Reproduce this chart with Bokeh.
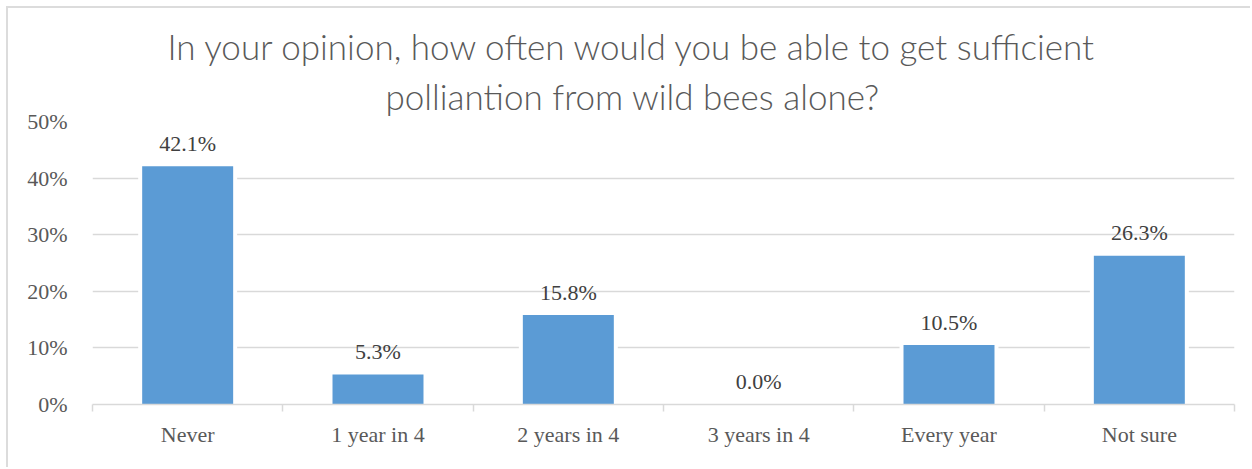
from bokeh.plotting import figure
from bokeh.models import (Range1d, LinearAxis, FixedTicker,
                          PrintfTickFormatter, Title, ColumnDataSource)
from bokeh.core.properties import value
from bokeh.embed import file_html
from bokeh.resources import INLINE

categories = ["Never", "1 year in 4", "2 years in 4", "3 years in 4", "Every year", "Not sure"]
values = [42.1, 5.3, 15.8, 0.0, 10.5, 26.3]
labels = [f"{v:.1f}%" for v in values]
y_ticks = [0, 10, 20, 30, 40, 50]
title_lines = ["In your opinion, how often would you be able to get sufficient",
               "polliantion from wild bees alone?"]

BLUE = "#5B9BD5"
GRID = "#D9D9D9"
AXIS_TXT = "#595959"
LBL_TXT = "#404040"
SERIF = "Liberation Serif"
TITLE_FONT = "'Lato Light', Lato, sans-serif"

n = len(categories)
xpos = [i + 0.5 for i in range(n)]
src = ColumnDataSource(dict(x=xpos, cat=categories, val=values, lbl=labels))

p = figure(width=1244, height=461, x_range=Range1d(0, n),
           y_range=Range1d(0, 50), output_backend="svg", toolbar_location=None,
           x_axis_location=None, y_axis_location="left",
           min_border_left=84, min_border_right=18, min_border_top=113, min_border_bottom=65)
p.styles = {"margin-left": "6px", "margin-top": "6px",
            "border-left": "2px solid #DCDCDC", "border-top": "2px solid #DCDCDC"}
p.outline_line_color = None
p.background_fill_color = "white"
p.border_fill_color = "white"

# titles (line 2 added first: closest to plot); left-aligned with offsets so
# that they are centred over the whole chart rather than the plot frame
for txt, so, off in zip(reversed(title_lines), [9, 3], [293, 75]):
    p.add_layout(Title(text=txt, align="left", text_font=TITLE_FONT,
                       text_font_style="normal", text_font_size="35px",
                       text_color=AXIS_TXT, standoff=so, offset=off), "above")

# y axis
p.yaxis.ticker = FixedTicker(ticks=y_ticks)
p.yaxis.formatter = PrintfTickFormatter(format="%d%%")
p.yaxis.axis_line_color = None
p.yaxis.major_tick_line_color = None
p.yaxis.minor_tick_line_color = None
p.yaxis.major_label_standoff = 19
p.yaxis.major_label_text_font = SERIF
p.yaxis.major_label_text_font_size = "22px"
p.yaxis.major_label_text_color = AXIS_TXT

p.ygrid.grid_line_color = GRID
p.ygrid.grid_line_width = 1.5
p.xgrid.grid_line_color = None

# boundary tick axis (closest to plot)
bticks = list(range(n + 1))
bax = LinearAxis(ticker=FixedTicker(ticks=bticks, minor_ticks=[]),
                 axis_line_color=GRID, axis_line_width=1.5,
                 major_tick_line_color=GRID, major_tick_line_width=1.5,
                 major_tick_out=7, major_tick_in=0, minor_tick_line_color=None,
                 major_label_overrides={t: "" for t in bticks},
                 major_label_text_font_size="1px", major_label_standoff=0)
p.add_layout(bax, "below")

# category label axis
cax = LinearAxis(ticker=FixedTicker(ticks=xpos, minor_ticks=[]),
                 axis_line_color=None, major_tick_line_color=None, minor_tick_line_color=None,
                 major_label_overrides={x: c for x, c in zip(xpos, categories)},
                 major_label_standoff=4, major_label_text_font=SERIF,
                 major_label_text_font_size="22px", major_label_text_color=AXIS_TXT)
p.add_layout(cax, "below")

# white halo + bars
p.vbar(x="x", top="val", width=0.478, source=src, fill_color="white",
       line_color="white", line_width=8)
p.vbar(x="x", top="val", width=0.478, source=src, fill_color=BLUE, line_color=None)

p.text(x="x", y="val", text="lbl", source=src, text_align="center",
       text_baseline="middle", y_offset=-23, text_font=value(SERIF),
       text_font_size="22px", text_color=LBL_TXT)

open("out.html", "w").write(file_html(p, INLINE))
